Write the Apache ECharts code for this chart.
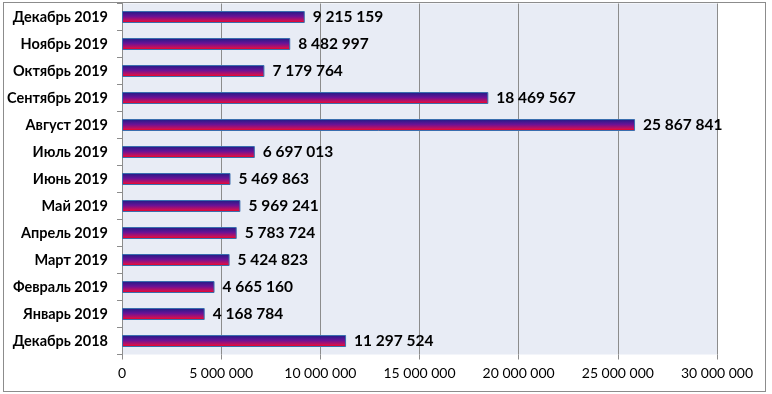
<!DOCTYPE html>
<html><head><meta charset="utf-8">
<script src="https://cdn.jsdelivr.net/npm/echarts@6/dist/echarts.min.js"></script>
<style>html,body{margin:0;padding:0;background:#fff}#c{width:772px;height:394px}
#frame{position:absolute;left:3px;top:2px;width:761px;height:388px;border:1px solid #8c8c8c;pointer-events:none}</style>
</head><body><div id="c"></div><div id="frame"></div>
<script>
const categories = ['Декабрь 2018','Январь 2019','Февраль 2019','Март 2019','Апрель 2019','Май 2019','Июнь 2019','Июль 2019','Август 2019','Сентябрь 2019','Октябрь 2019','Ноябрь 2019','Декабрь 2019'];
const values = [11297524,4168784,4665160,5424823,5783724,5969241,5469863,6697013,25867841,18469567,7179764,8482997,9215159];
const tickValues = [0,5000000,10000000,15000000,20000000,25000000,30000000];

const fmt = v => String(v).replace(/\B(?=(\d{3})+(?!\d))/g, ' ');
const chart = echarts.init(document.getElementById('c'), null, {renderer:'canvas'});
chart.setOption({
  animation:false,
  grid:{left:122,right:55,top:3.5,bottom:39.5,show:true,backgroundColor:'#e8ecf5',borderWidth:0},
  xAxis:{type:'value',min:tickValues[0],max:tickValues[tickValues.length-1],interval:5000000,
    axisLine:{show:false},
    axisTick:{show:true,length:5,lineStyle:{color:'#8c8c8c'}},
    splitLine:{show:true,lineStyle:{color:'#8c8c8c',width:1}},
    axisLabel:{formatter:fmt,color:'#000',fontFamily:'Lato',fontSize:14,margin:12}},
  yAxis:{type:'category',data:categories,
    axisLine:{show:true,lineStyle:{color:'#8c8c8c',width:1}},
    axisTick:{show:true,length:5,alignWithLabel:false,lineStyle:{color:'#8c8c8c'}},
    axisLabel:{color:'#000',fontFamily:'Lato',fontWeight:'bold',fontSize:14.5,margin:14}},
  series:[{type:'bar',data:values,barWidth:12,
    itemStyle:{borderColor:'#3a6eae',borderWidth:1,
      color:new echarts.graphic.LinearGradient(0,0,0,1,[
        {offset:0,color:'#1b1e86'},{offset:0.45,color:'#6a1296'},{offset:0.8,color:'#c8105a'},{offset:1,color:'#ff0000'}])},
    label:{show:true,position:'right',distance:8,formatter:p=>fmt(p.value),
      color:'#000',fontFamily:'Lato',fontWeight:'bold',fontSize:15.5}}]
});
</script></body></html>
